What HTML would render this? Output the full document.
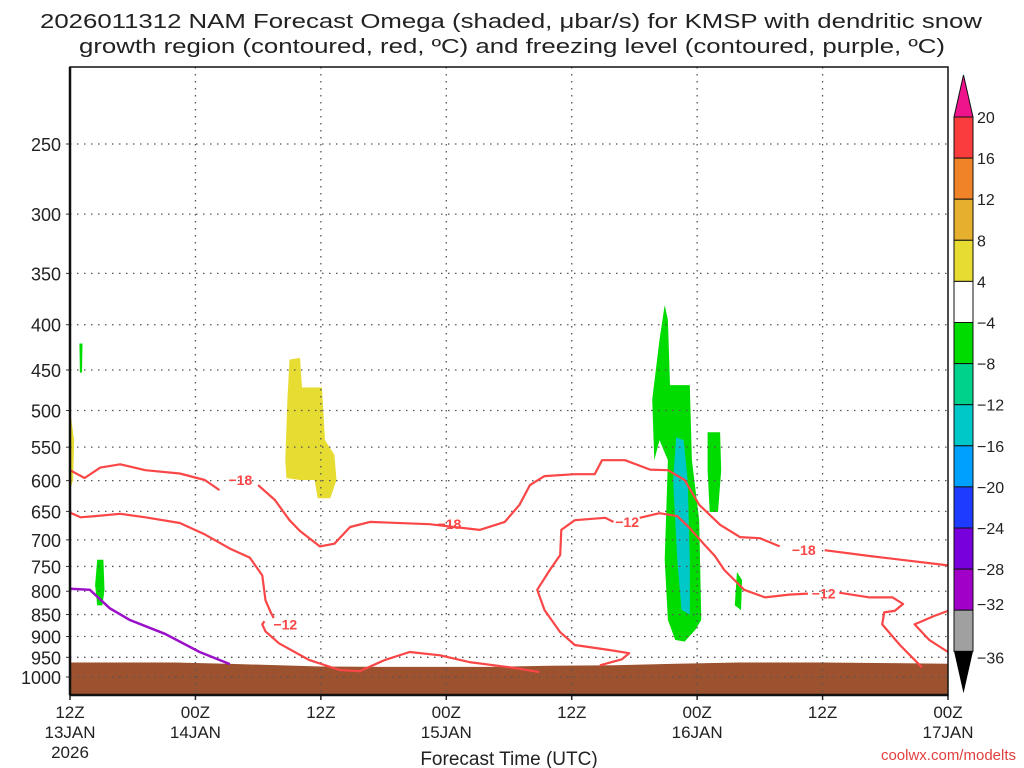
<!DOCTYPE html>
<html><head><meta charset="utf-8"><style>
html,body{margin:0;padding:0;background:#fff;width:1024px;height:768px;overflow:hidden}
svg text{font-family:"Liberation Sans",sans-serif;fill:#222}
</style></head><body>
<svg id="chart" width="1024" height="768" xmlns="http://www.w3.org/2000/svg">
<text x="40" y="28" font-size="20" textLength="942" lengthAdjust="spacingAndGlyphs">2026011312 NAM Forecast Omega (shaded, μbar/s) for KMSP with dendritic snow</text>
<text x="79" y="53" font-size="20" textLength="866" lengthAdjust="spacingAndGlyphs">growth region (contoured, red, ºC) and freezing level (contoured, purple, ºC)</text>
<g id="plot"></g>
<g id="cbar"></g>
<text x="509" y="765" font-size="19" text-anchor="middle">Forecast Time (UTC)</text>
<text x="1016" y="760" font-size="15" text-anchor="end" fill="#e04040" style="fill:#e04040">coolwx.com/modelts</text>
</svg>
<script>
const pressureTicks=[250,300,350,400,450,500,550,600,650,700,750,800,850,900,950,1000];
const timeTickHours=[0,12,24,36,48,60,72,84];
const timeTickLabels=[["12Z","13JAN","2026"],["00Z","14JAN"],["12Z"],["00Z","15JAN"],["12Z"],["00Z","16JAN"],["12Z"],["00Z","17JAN"]];
const terrainH=[0,10,15,20,24,30,40,46,52,58,64,72,80,84];
const terrainP=[963,963,966,970,973,974,974,971,970,966,963,963,965,966];
const freezingLine=[[0,795],[1.9,797],[3.8,836],[5.7,862],[9.1,894],[12.4,937],[15.3,967]];
const dgzLines=[
 [[0,584],[1.4,596],[2.9,580],[4.8,575],[7.2,584],[10.5,589],[12.9,599],[14.3,615]],
 [[18,607],[19.6,631],[21,665],[22,684],[23.9,712],[25.3,707],[26.8,677],[28.7,668],[34.4,672],[39.2,682],[41.6,668],[43,639],[44,607],[45.4,593],[48.3,590],[50.2,590],[50.9,569],[53.1,569],[55.5,583],[57.2,584],[58.8,599],[60.2,639],[62.2,673],[64.1,695],[66,697],[67.9,712]],
 [[72.2,719],[76.5,730],[84,748]],
 [[0,652],[1,660],[2.4,658],[4.8,654],[7.2,660],[10.5,670],[12.9,690],[15.3,716],[17.2,733],[18.4,768],[18.7,819],[19.2,845],[19.5,858]],
 [[18.6,865],[18.4,872],[18.7,888],[20,916],[22.9,957],[25.8,982],[27.7,985],[30.1,957],[32.5,937],[35.4,945],[38.2,962],[42.1,975],[44.9,987]],
 [[50.7,970],[52.8,955],[53.5,940],[51.6,932],[48.3,920],[46.9,890],[45.4,840],[44.7,797],[45.9,757],[46.9,728],[47,682],[48.3,665],[51.2,661],[52,668]],
 [[54.5,661],[56.4,653],[58.1,658],[59.3,679],[60.7,709],[61.7,730],[62.6,757],[64.5,797],[66.5,813],[68.8,807],[70.6,805]],
 [[73.6,803],[76.5,813],[78.7,813],[79.7,827],[78.9,842],[77.9,845],[77.7,872],[79.4,920],[81.5,975]],
 [[84,842],[82.7,853],[80.8,872],[82.2,908],[84,937]]
];
const dgzLabels=[[16.3,-18,599],[36.3,-18,672],[70.2,-18,719],[20.6,-12,872],[53.3,-12,668],[72.1,-12,805]];
const omegaColors=["#e6dc32","#e6dc32","#00dc00","#00dc00","#00dc00","#00c8c8","#00dc00","#00dc00"];
const omegaBlobs=[
 [[21,438],[22,436],[22.2,471],[24.1,471],[24.4,540],[25.3,561],[25.5,599],[24.9,628],[23.7,628],[23.4,599],[22,599],[20.7,596],[20.6,569],[20.8,486]],
 [[0,499],[0.4,540],[0.3,599],[0,615]],
 [[0.9,420],[1.2,420],[1.15,453],[0.95,453]],
 [[2.6,737],[3.2,737],[3.3,797],[3.1,830],[2.6,830],[2.4,787]],
 [[56.9,380],[57.2,395],[57.4,468],[59.3,468],[59.5,569],[60.2,665],[60.4,862],[59.8,885],[58.8,912],[57.9,908],[57.2,862],[56.9,737],[57.2,569],[56.4,540],[55.9,569],[55.7,486],[56.4,416]],
 [[58,536],[58.7,540],[59.1,599],[59.3,737],[59.3,850],[58.5,840],[58.1,737],[57.7,599]],
 [[61,529],[62.2,529],[62.3,584],[62,651],[61.2,651],[61,584]],
 [[63.8,761],[64.3,777],[64.2,840],[63.6,830]]
];
const cbarLabels=["20","16","12","8","4","−4","−8","−12","−16","−20","−24","−28","−32","−36"];
const cbarColors=["#fa3c3c","#f08228","#e6af2d","#e6dc32","#ffffff","#00dc00","#00d28c","#00c8c8","#00a0ff","#1e3cff","#7800dc","#a000c8","#a0a0a0"];

const NS="http://www.w3.org/2000/svg";
const L=70,R=948,T=67,B=695;
const X=h=>L+h*(R-L)/84;
const Y=p=>144+384.5*Math.log(p/250);
function mk(tag,attrs,parent){const e=document.createElementNS(NS,tag);for(const k in attrs)e.setAttribute(k,attrs[k]);parent.appendChild(e);return e;}
const plot=document.getElementById('plot');
const cb=document.getElementById('cbar');
const pts=a=>a.map(q=>X(q[0]).toFixed(1)+","+Y(q[1]).toFixed(1)).join(" ");
// omega
omegaBlobs.forEach((b,i)=>{const e=mk('polygon',{points:pts(b),fill:omegaColors[i]},plot);

});
// terrain
{let d="M"+L+","+B;terrainH.forEach((h,i)=>{d+=" L"+X(h).toFixed(1)+","+Y(terrainP[i]).toFixed(1);});d+=" L"+R+","+B+"Z";
const e=mk('path',{d:d,fill:'#9c522e'},plot);

}
// grid
pressureTicks.forEach(p=>{const y=Y(p);
const g=mk('line',{x1:L,x2:R,y1:y,y2:y,stroke:'#555','stroke-width':1.3,'stroke-dasharray':'1.5,5.5'},plot);


const t=mk('text',{x:61,y:y+7,'font-size':18,'text-anchor':'end'},plot);t.textContent=p;


mk('line',{x1:L-4,x2:L,y1:y,y2:y,stroke:'#333'},plot);});
timeTickHours.forEach((h,i)=>{const x=X(h);
if(i>0&&i<7){const g=mk('line',{x1:x,x2:x,y1:T,y2:B,stroke:'#555','stroke-width':1.3,'stroke-dasharray':'1.5,5.5'},plot);

}
timeTickLabels[i].forEach((s,j)=>{const t=mk('text',{x:x,y:718+j*20,'font-size':17,'text-anchor':'middle'},plot);t.textContent=s;

});
mk('line',{x1:x,x2:x,y1:B,y2:B+5,stroke:'#222','stroke-width':1.5},plot);});
// contours
const fl=mk('polyline',{points:pts(freezingLine),fill:'none',stroke:'#9a10c8','stroke-width':2.5},plot);


dgzLines.forEach((l,i)=>{const e=mk('polyline',{points:pts(l),fill:'none',stroke:'#fa4646','stroke-width':2.2,'stroke-linejoin':'round'},plot);

});
dgzLabels.forEach(a=>{const t=mk('text',{x:X(a[0]),y:Y(a[2])+5,'font-size':14,'font-weight':'bold','text-anchor':'middle',style:'fill:#fa4646'},plot);t.textContent="−"+Math.abs(a[1]);

});
// frame
const fr=mk('rect',{x:L,y:T,width:R-L,height:B-T,fill:'none',stroke:'#111','stroke-width':1.5},plot);


mk('line',{x1:L,x2:L,y1:T,y2:B,stroke:'#111','stroke-width':2.5},plot);
mk('line',{x1:L,x2:R,y1:B,y2:B,stroke:'#111','stroke-width':2.5},plot);
// colorbar
const cx=954,cw=19,ct=117,step=41.1;
const tu=mk('polygon',{points:`${cx},${ct} ${cx+cw},${ct} ${cx+cw/2},${ct-42}`,fill:'#f0148c',stroke:'#111'},cb);


cbarColors.forEach((c,i)=>{const r=mk('rect',{x:cx,y:ct+i*step,width:cw,height:step,fill:c,stroke:'#111'},cb);

});
const bt=ct+13*step;
const td=mk('polygon',{points:`${cx},${bt} ${cx+cw},${bt} ${cx+cw/2},${bt+42}`,fill:'#000'},cb);


cbarLabels.forEach((s,i)=>{const t=mk('text',{x:977,y:ct+i*step+(i==12?0:6)+(i==13?6:0),'font-size':16},cb);t.textContent=s;

});
</script>
</body></html>
